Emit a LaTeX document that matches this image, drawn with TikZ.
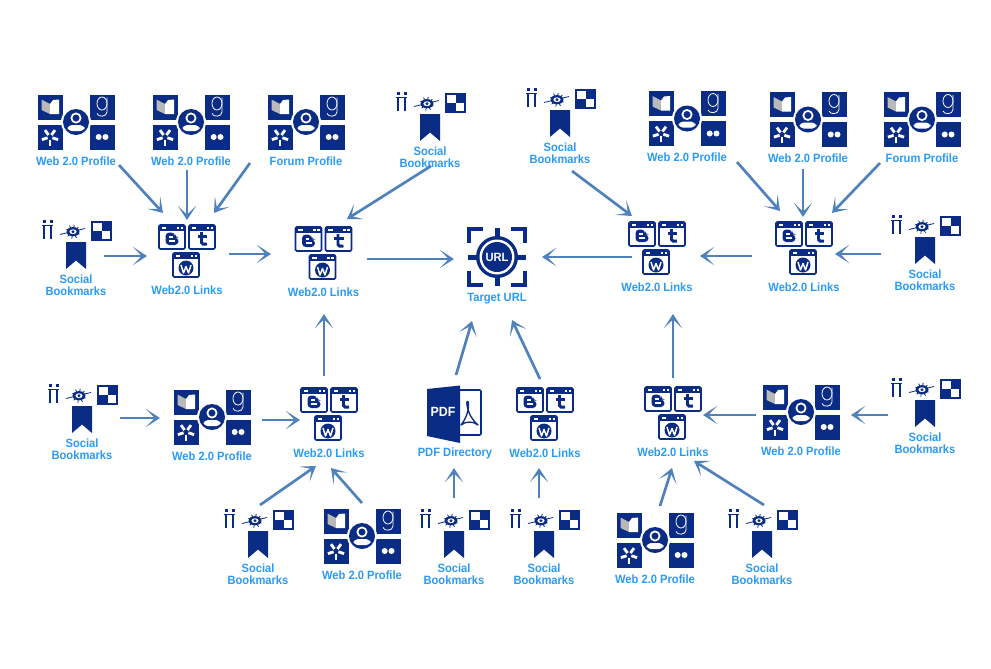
\documentclass[tikz,border=0pt]{standalone}
\usepackage{fontspec}
\setmainfont{Liberation Sans}[FakeStretch=0.93]
\usetikzlibrary{arrows.meta}
\definecolor{navy}{HTML}{0B2C84}
\definecolor{lbl}{HTML}{2B9BF4}
\definecolor{conn}{HTML}{4F81BD}
\tikzset{
  x=0.75pt,y=-0.75pt,
  hit/.style={inner sep=0pt,minimum width=60pt,minimum height=60pt},
  lab/.style={text=lbl,font=\bfseries\fontsize{9}{9}\selectfont,align=center,inner sep=0pt},
  connector/.style={draw=conn,line width=2pt,-{Stealth[length=10.5pt,width=13.5pt,inset=6.5pt]}},
  pics/win/.style={code={
    \draw[navy,fill=white,line width=1.2pt,rounded corners=1pt] (-13,-12) rectangle (13,12);
    \fill[navy] (-13,-12) rectangle (13,-6);
    \fill[white] (4.5,-10.2) rectangle (7,-8);
    \fill[white] (8.5,-10.2) rectangle (11,-8);
    \fill[white] (-10.5,-9.7) rectangle (-6,-8.3);
  }},
  pics/web/.style={code={
    \pic at (-15,-13) {win};
    \pic at (15,-13) {win};
    \pic at (-1,15) {win};
    % blogger glyph
    \fill[navy,rounded corners=2.8pt] (-21.5,-17.5) -- (-21.5,-5) -- (-8.5,-5) -- (-8.5,-12.5) -- (-12,-12.5) -- (-12,-17.5) -- cycle;
    \fill[white] (-18,-14) rectangle (-14.5,-12.5);
    \fill[white] (-18,-9.7) rectangle (-12,-8);
    % tumblr glyph
    \draw[navy,line width=2.2pt] (14.5,-18) -- (14.5,-7.5) .. controls (14.5,-5.5) and (17,-5.5) .. (20,-6);
    \draw[navy,line width=2pt] (10.5,-13.5) -- (20,-13.5);
    % wordpress glyph
    \fill[navy] (-1,18) circle[radius=7.5];
    \draw[white,line width=1.1pt,line join=round] (-6,15) -- (-3.5,23) -- (-1,16.5) -- (1.5,23) -- (4,15);
  }},
  pics/profile/.style={code={
    \fill[navy] (-38.5,-27.5) rectangle (-13.5,-2.5);
    \fill[navy] (13.5,-27.5) rectangle (38.5,-2.5);
    \fill[navy] (-38.5,2.5) rectangle (-13.5,27.5);
    \fill[navy] (13.5,2.5) rectangle (38.5,27.5);
    % medium
    \fill[gray!55] (-34.5,-22.5) -- (-26,-18) -- (-26,-8) -- (-34.5,-12) -- cycle;
    \fill[white] (-26,-18) -- (-23,-22) -- (-17,-22.5) -- (-17,-8) -- (-26,-8) -- cycle;
    % goodreads g
    \draw[white,line width=0.6pt] (26,-18.5) ellipse[x radius=5,y radius=6.5];
    \draw[white,line width=0.6pt] (31,-24.5) -- (31,-10) .. controls (31,-5) and (22,-4.5) .. (21,-8.5);
    % yelp
    \foreach \a in {90,162,234,306,18}{
      \draw[white,line width=2.1pt] ([shift={(\a:2.5)}]-26,15) -- ([shift={(\a:8.5)}]-26,15);
    }
    % flickr
    \fill[white] (22.7,15) circle[radius=3];
    \fill[white] (29.5,15) circle[radius=3];
    % person
    \fill[white] (0,0) circle[radius=15];
    \fill[navy] (0,0) circle[radius=13];
    \draw[white,line width=1.3pt,fill=navy] (0,-4) circle[radius=4.6];
    \fill[white,rounded corners=3pt] (-8.5,9) -- (-8.5,3.2) -- (8.5,3.2) -- (8.5,9) -- cycle;
  }},
  pics/social/.style={code={
    % h glyph
    \fill[navy] (-33,-25) rectangle (-30.5,-22.5);
    \fill[navy] (-26,-25) rectangle (-23.5,-22.5);
    \draw[navy,line width=1.3pt] (-34,-19.5) -- (-23,-19.5);
    \draw[navy,line width=2pt] (-32,-19.5) -- (-32,-6);
    \draw[navy,line width=2pt] (-25,-19.5) -- (-25,-6);
    % eye
    \draw[navy,line width=0.6pt] (-16,-10.5) -- (9,-16.5);
    \foreach \a in {20,60,100,140,200,240,280,320}{
      \draw[navy,line width=0.6pt] (-3,-13.3) -- ++(\a:7);
    }
    \fill[navy] (-3,-13.3) ellipse[x radius=6.5,y radius=4.6];
    \fill[white] (-3,-13.3) ellipse[x radius=3.6,y radius=2.4];
    \fill[navy] (-3,-13.3) circle[radius=1.6];
    % checker
    \fill[navy] (15,-24) rectangle (36,-4);
    \fill[white] (17,-22) rectangle (25.5,-14);
    \fill[white] (25.5,-14) rectangle (34,-6);
    % bookmark
    \fill[navy] (-10,-3) -- (10,-3) -- (10,24) -- (0,15.5) -- (-10,24) -- cycle;
  }},
  pics/goal/.style={code={
    \fill[navy] (0,0) circle[radius=21];
    \fill[white] (0,0) circle[radius=17.5];
    \fill[navy] (0,0) circle[radius=15];
    \foreach \a in {0,90,180,270}{
      \begin{scope}[rotate=\a]
        \fill[navy] (-2.5,-29) rectangle (2.5,-20);
        \draw[navy,line width=2.6pt] (-28,-14) -- (-28,-28) -- (-14,-28);
      \end{scope}
    }
    \node[text=white,font=\bfseries\fontsize{9}{9}\selectfont,inner sep=0pt] at (0,0) {URL};
  }},
  pics/pdfdoc/.style={code={
    \fill[navy] (-28,-23) -- (5,-26.5) -- (5,31) -- (-28,24) -- cycle;
    \draw[navy,line width=1.2pt,rounded corners=1pt] (5,-22) -- (26,-22) -- (26,23) -- (5,23);
    \node[text=white,font=\bfseries\fontsize{10}{10}\selectfont,inner sep=0pt] at (-12,0) {PDF};
    \draw[navy,line width=1pt,line join=round] (6,13) .. controls (11,7) and (14,-2) .. (13.5,-9) .. controls (13,-12) and (11,-11) .. (12,-7) .. controls (13,1) and (18,9) .. (23,13) .. controls (18,9) and (11,9) .. (6,13) -- cycle;
  }},
}
\newcommand{\prof}[4]{\node[hit] (#1) at (#2,#3) {};\pic at (#1.center) {profile};\node[lab] (#1l) at ([yshift=-29.25pt]#1.center) {#4};}
\newcommand{\soc}[3]{\node[hit] (#1) at (#2,#3) {};\pic at (#1.center) {social};\node[lab] (#1l) at ([yshift=-30pt]#1.center) {Social\\[0pt]Bookmarks};}
\newcommand{\web}[3]{\node[hit] (#1) at (#2,#3) {};\pic at (#1.center) {web};\node[lab] (#1l) at ([yshift=-30pt]#1.center) {Web2.0 Links};}
\newcommand{\cn}[6]{\draw[connector] ([shift={(#2,#3)}]#1.center) -- ([shift={(#5,#6)}]#4.center);}
\begin{document}
\begin{tikzpicture}
\useasboundingbox (0,0) rectangle (991,668);
\fill[white] (0,0) rectangle (991,668);
\prof{p1}{76}{122}{Web 2.0 Profile}
\prof{p2}{191}{122}{Web 2.0 Profile}
\prof{p3}{306}{122}{Forum Profile}
\prof{p4}{687}{118.5}{Web 2.0 Profile}
\prof{p5}{808}{119.5}{Web 2.0 Profile}
\prof{p6}{922}{119.5}{Forum Profile}
\prof{p7}{212}{417}{Web 2.0 Profile}
\prof{p8}{801}{412}{Web 2.0 Profile}
\prof{p9}{362}{536}{Web 2.0 Profile}
\prof{p10}{655}{540}{Web 2.0 Profile}
\soc{s1}{76}{245}
\soc{s2}{430}{117}
\soc{s3}{560}{113}
\soc{s4}{925}{240}
\soc{s5}{82}{409}
\soc{s6}{925}{403}
\soc{s7}{258}{534}
\soc{s8}{454}{534}
\soc{s9}{544}{534}
\soc{s10}{762}{534}
\web{w1}{187}{250}
\web{w2}{323.5}{252}
\web{w3}{657}{247}
\web{w4}{804}{247}
\web{w5}{329}{413}
\web{w6}{545}{413}
\web{w7}{673}{412}
\node[hit] (goal) at (497,257) {};
\pic at (goal.center) {goal};
\node[lab] (goall) at ([yshift=-31pt]goal.center) {Target URL};
\node[hit] (pdf) at (455,412) {};
\pic at (pdf.center) {pdfdoc};
\node[lab] (pdfl) at ([yshift=-30.7pt]pdf.center) {PDF Directory};
\cn{p1}{43}{43}{w1}{-24}{-37}
\cn{p2}{-4}{48}{w1}{0}{-30}
\cn{p3}{-56}{41}{w1}{27}{-37}
\cn{s1}{28}{11}{w1}{-40}{6}
\cn{w1}{42}{4}{w2}{-52.5}{2}
\cn{w2}{43.5}{7}{goal}{-43}{2}
\cn{s2}{1}{49}{w2}{23.5}{-33}
\cn{s3}{12}{58}{w3}{-25}{-31}
\cn{w3}{-25}{10}{goal}{45}{0}
\cn{w4}{-52}{9}{w3}{43}{9}
\cn{p4}{50}{43.5}{w4}{-24}{-36}
\cn{p5}{-5}{49.5}{w4}{-1}{-30}
\cn{p6}{-42}{43.5}{w4}{28}{-34}
\cn{s4}{-44}{14}{w4}{31}{7}
\cn{w5}{-5}{-37}{w2}{0.5}{62}
\cn{w7}{0}{-34}{w3}{16}{67}
\cn{pdf}{1}{-37}{goal}{-25}{64}
\cn{w6}{-5}{-34}{goal}{15}{63}
\cn{s5}{38}{9}{p7}{-52}{1}
\cn{p7}{50}{3}{w5}{-29}{7}
\cn{s7}{2}{-29}{w5}{-13}{53}
\cn{p9}{0}{-33}{w5}{2}{55}
\cn{s8}{0}{-36}{pdf}{-1}{56}
\cn{s9}{-5}{-36}{w6}{-6}{55}
\cn{p10}{5}{-34}{w7}{-1}{56}
\cn{s10}{2}{-29}{w7}{21}{49}
\cn{p8}{-45}{3}{w7}{30}{3}
\cn{s6}{-37}{12}{p8}{50}{3}
\end{tikzpicture}
\end{document}
